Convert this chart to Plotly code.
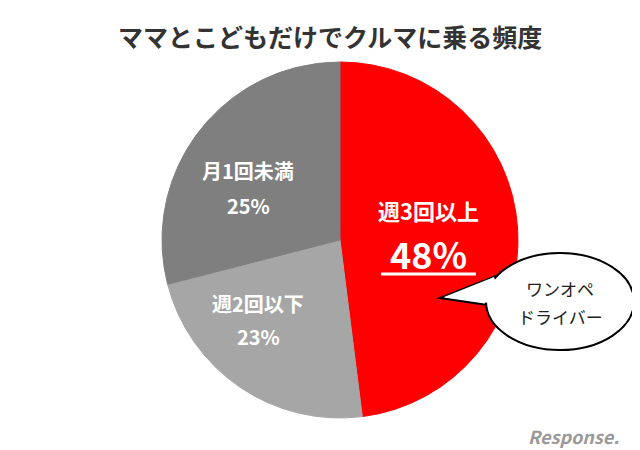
import plotly.graph_objects as go

labels = ["週3回以上", "週2回以下", "月1回未満", "その他"]
values = [48, 23, 25, 4]
colors = ["#ff0000", "#a6a6a6", "#7f7f7f", "#7f7f7f"]
title = "ママとこどもだけでクルマに乗る頻度"

W, H = 640, 450
def px(x): return x / W
def py(y): return 1 - y / H

fig = go.Figure(go.Pie(
    labels=labels, values=values, sort=False, direction="clockwise", rotation=0,
    marker=dict(colors=colors, line=dict(color=colors, width=1)),
    textinfo="none", hoverinfo="skip", showlegend=False,
    domain=dict(x=[px(154), px(510)], y=[py(410), py(54)]),
))

font = "Noto Sans CJK JP"
anns = [
    dict(x=px(322), y=py(28), text="<b>" + title + "</b>", size=25, color="#333333"),
    dict(x=px(240), y=py(162), text="<b>月1回未満</b>", size=20, color="white"),
    dict(x=px(240), y=py(197), text="<b>25%</b>", size=20, color="white"),
    dict(x=px(250), y=py(295), text="<b>週2回以下</b>", size=20, color="white"),
    dict(x=px(250), y=py(328), text="<b>23%</b>", size=20, color="white"),
    dict(x=px(420), y=py(202), text="<b>週3回以上</b>", size=22, color="white"),
    dict(x=px(420), y=py(245), text="<b>48%</b>", size=36, color="white"),
    dict(x=px(552), y=py(280), text="ワンオペ", size=17, color="#222222"),
    dict(x=px(552), y=py(308), text="ドライバー", size=17, color="#222222"),
    dict(x=px(565), y=py(428), text="<i><b>Response.</b></i>", size=18, color="#999999"),
]
annotations = [dict(x=a["x"], y=a["y"], xref="paper", yref="paper", text=a["text"],
                    xanchor="center", yanchor="middle",
                    showarrow=False, font=dict(family=font, size=a["size"], color=a["color"]))
               for a in anns]

shapes = [
    dict(type="line", xref="paper", yref="paper", x0=px(373), x1=px(468), y0=py(266), y1=py(266),
         line=dict(color="white", width=3)),
    dict(type="path", xref="paper", yref="paper",
         path=f"M {px(488)} {py(268)} L {px(432)} {py(290)} L {px(500)} {py(300)} Z",
         fillcolor="white", line=dict(color="black", width=2)),
    dict(type="circle", xref="paper", yref="paper", x0=px(478), x1=px(626), y0=py(342), y1=py(245),
         fillcolor="white", line=dict(color="black", width=2)),
    dict(type="path", xref="paper", yref="paper",
         path=f"M {px(486)} {py(269)} L {px(436)} {py(289)} L {px(496)} {py(297)} Z",
         fillcolor="white", line=dict(color="white", width=0)),
]

fig.update_layout(width=W, height=H, margin=dict(l=0, r=0, t=0, b=0),
                  paper_bgcolor="white", plot_bgcolor="white",
                  annotations=annotations, shapes=shapes)
fig.write_html("out.html")
